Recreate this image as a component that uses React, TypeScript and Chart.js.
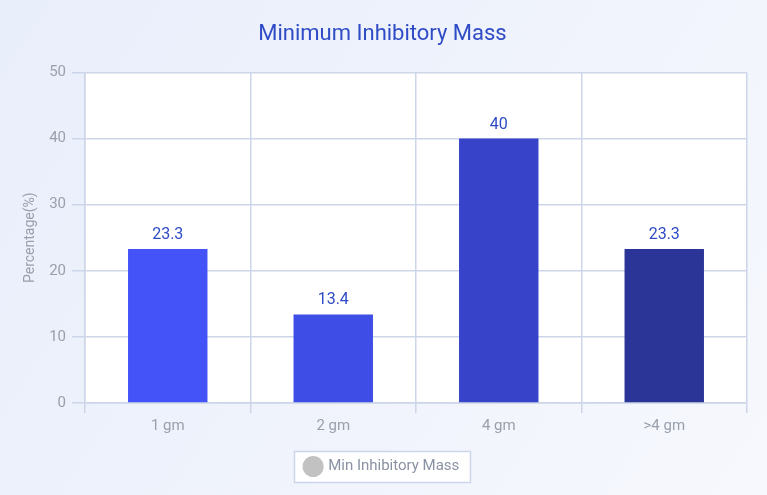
import React, { useEffect, useRef } from "react";
import { Chart, registerables } from "chart.js";

Chart.register(...registerables);

const categories = ["1 gm", "2 gm", "4 gm", ">4 gm"];
const percentages = [23.3, 13.4, 40, 23.3];
const barColors = ["#4353f7", "#3e4de6", "#3744c9", "#2a3597"];
const seriesLabel = "Min Inhibitory Mass";
const chartTitle = "Minimum Inhibitory Mass";
const yAxisTitle = "Percentage(%)";

const FONT = "Roboto, 'Noto Sans', sans-serif";
const GRID = "#ccd6e8";
const TICK = "#9aa0ab";

const decorPlugin = {
  id: "decor",
  beforeDraw(chart: any) {
    const { ctx, width, height, chartArea } = chart;
    ctx.save();
    const g = ctx.createLinearGradient(0, 0, width, height);
    g.addColorStop(0, "#e9eefb");
    g.addColorStop(1, "#f6f8fd");
    ctx.fillStyle = g;
    ctx.fillRect(0, 0, width, height);
    ctx.fillStyle = "#ffffff";
    ctx.fillRect(chartArea.left, chartArea.top, chartArea.right - chartArea.left, chartArea.bottom - chartArea.top);
    const lg = chart.legend;
    if (lg && lg.legendHitBoxes && lg.legendHitBoxes.length) {
      const hb = lg.legendHitBoxes[0];
      const x = Math.round(hb.left - 12) + 0.5;
      const y = Math.round(hb.top - 8) + 0.5;
      const w = Math.round(hb.width + 22);
      const h = Math.round(hb.height + 16);
      ctx.fillStyle = "#ffffff";
      ctx.fillRect(x, y, w, h);
      ctx.strokeStyle = "#ccd6e8";
      ctx.lineWidth = 1.5;
      ctx.strokeRect(x, y, w, h);
    }
    ctx.restore();
  },
  afterDatasetsDraw(chart: any) {
    const { ctx } = chart;
    const meta = chart.getDatasetMeta(0);
    ctx.save();
    ctx.fillStyle = "#2f4bc6";
    ctx.font = `16px ${FONT}`;
    ctx.textAlign = "center";
    ctx.textBaseline = "bottom";
    meta.data.forEach((bar: any, i: number) => {
      ctx.fillText(String(percentages[i]), bar.x, bar.y - 6);
    });
    ctx.restore();
  },
};

export default function App() {
  const ref = useRef<HTMLCanvasElement>(null);
  useEffect(() => {
    document.body.style.margin = "0";
    const chart = new Chart(ref.current!, {
      type: "bar",
      data: {
        labels: categories,
        datasets: [
          {
            label: seriesLabel,
            data: percentages,
            backgroundColor: barColors,
            categoryPercentage: 1,
            barPercentage: 0.48,
          },
        ],
      },
      options: {
        animation: false,
        responsive: false,
        layout: { padding: { top: 13, left: 18, right: 20, bottom: 11 } },
        plugins: {
          title: {
            display: true,
            text: chartTitle,
            color: "#2f4bc6",
            font: { family: FONT, size: 22, weight: "normal" },
            padding: { top: 8, bottom: 25 },
          },
          legend: {
            position: "bottom",
            labels: {
              usePointStyle: true,
              pointStyle: "circle",
              boxWidth: 16,
              boxHeight: 16,
              padding: 20,
              color: "#8a91a3",
              font: { family: FONT, size: 15 },
              generateLabels: () => [
                {
                  text: seriesLabel,
                  fillStyle: "#c2c2c2",
                  strokeStyle: "#c2c2c2",
                  fontColor: "#8a91a3",
                  lineWidth: 0,
                  pointStyle: "circle",
                  hidden: false,
                  datasetIndex: 0,
                } as any,
              ],
            },
          },
          tooltip: { enabled: false },
        },
        scales: {
          x: {
            grid: { color: GRID, lineWidth: 1.5, tickLength: 10 },
            border: { color: GRID, width: 1.5 },
            ticks: { color: TICK, font: { family: FONT, size: 15 }, padding: 4 },
          },
          y: {
            min: 0,
            max: 50,
            afterFit: (s: any) => {
              s.width = 67;
            },
            grid: { color: GRID, lineWidth: 1.5, tickLength: 13 },
            border: { color: GRID, width: 1.5 },
            ticks: { stepSize: 10, color: TICK, font: { family: FONT, size: 15 }, padding: 6 },
            title: {
              display: true,
              text: yAxisTitle,
              color: TICK,
              font: { family: FONT, size: 14 },
            },
          },
        },
      },
      plugins: [decorPlugin],
    });
    return () => chart.destroy();
  }, []);
  return (
    <div style={{ width: 767, height: 495 }}>
      <canvas ref={ref} width={767} height={495} style={{ display: "block" }} />
    </div>
  );
}
